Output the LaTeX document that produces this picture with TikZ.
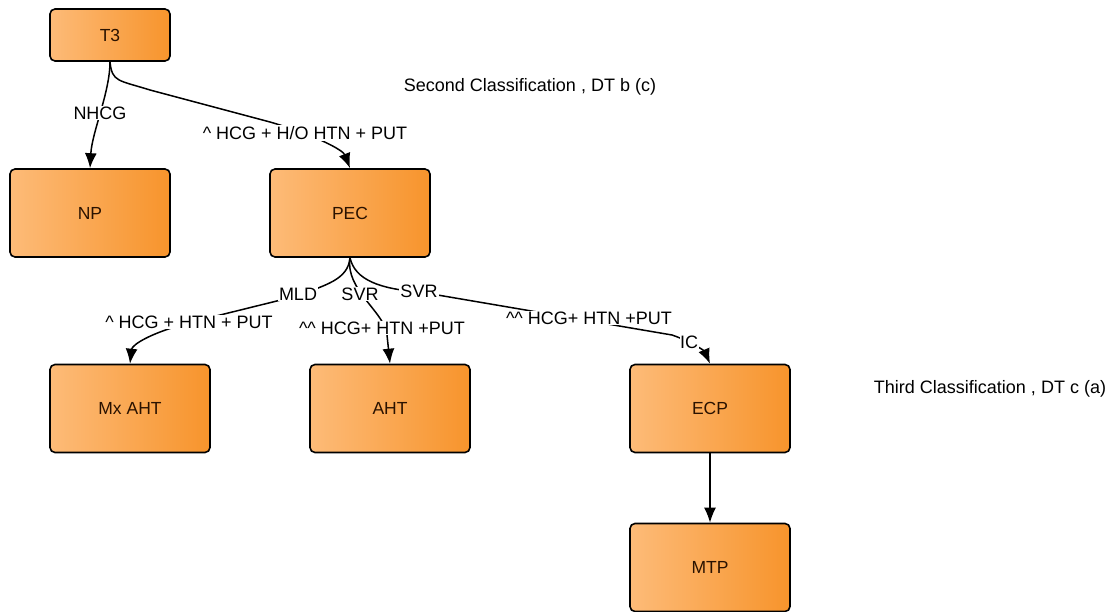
\documentclass[tikz,border=0pt]{standalone}
\usepackage{fontspec}
\setmainfont{Liberation Sans}
\usetikzlibrary{arrows.meta}
\definecolor{orL}{HTML}{FDBB78}
\definecolor{orR}{HTML}{F7942C}
\definecolor{boxtext}{HTML}{2A1200}
\tikzset{
  box/.style={draw=black, line width=1.6pt, rounded corners=5pt,
    left color=orL, right color=orR, minimum width=160pt, minimum height=88pt,
    font=\fontsize{17.5}{20}\selectfont, text=boxtext, inner sep=0pt},
  conn/.style={line width=1.5pt, -{Latex[length=15pt,width=12pt]}},
  lbl/.style={fill=white, inner sep=1pt, font=\fontsize{18}{20}\selectfont, text=black},
  note/.style={font=\fontsize{18}{20}\selectfont, inner sep=0pt}
}
\begin{document}
\begin{tikzpicture}[x=1pt,y=-1pt]
\useasboundingbox (0,0) rectangle (1109,612);
\node[box, minimum width=120pt, minimum height=52pt] (T3) at (110,35) {T3};
\node[box] (NP) at (90,213) {NP};
\node[box] (PEC) at (350,213) {PEC};
\node[box] (MxAHT) at (130,408.5) {Mx AHT};
\node[box] (AHT) at (390,408.5) {AHT};
\node[box] (ECP) at (710,408.5) {ECP};
\node[box] (MTP) at (710,567.5) {MTP};
\node[note] (second) at (530,87) {Second Classification , DT b (c)};
\node[note] (third) at (990,389) {Third Classification , DT c (a)};
% T3 -> NP
\draw[conn] (T3.south) .. controls (110,92) and (92,132) .. (NP.north);
\node[lbl] (nhcg) at (100,113) {NHCG};
% T3 -> PEC
\draw[conn] (T3.south) .. controls (112,82) and (118,80) .. (150,90)
  -- (270,122) .. controls (315,135) and (343,150) .. (PEC.north);
\node[lbl] (lblT) at (305,133) {\textasciicircum{} HCG + H/O HTN + PUT};
% PEC -> Mx AHT
\draw[conn] (PEC.south) .. controls (348,280) and (325,285) .. (297,296)
  -- (200,320) .. controls (150,332) and (132,345) .. (MxAHT.north);
\node[lbl] (mld) at (298,294) {MLD};
\node[lbl] (lblA) at (189,322) {\textasciicircum{} HCG + HTN + PUT};
% PEC -> AHT
\draw[conn] (PEC.south) .. controls (345,290) and (385,312) .. (387,335)
  -- (AHT.north);
\node[lbl] (svrA) at (360,294) {SVR};
\node[lbl] (lblB) at (382,328) {\textasciicircum\textasciicircum{} HCG+ HTN +PUT};
% PEC -> ECP
\draw[conn] (PEC.south) .. controls (355,280) and (380,289) .. (420,292)
  -- (672,335) .. controls (695,343) and (705,352) .. (ECP.north);
\node[lbl] (svrB) at (419,291) {SVR};
\node[lbl] (lblC) at (589,318) {\textasciicircum\textasciicircum{} HCG+ HTN +PUT};
\node[lbl, inner sep=0.5pt] (ic) at (689,342) {IC};
% ECP -> MTP
\draw[conn] (ECP.south) -- (MTP.north);
\end{tikzpicture}
\end{document}
